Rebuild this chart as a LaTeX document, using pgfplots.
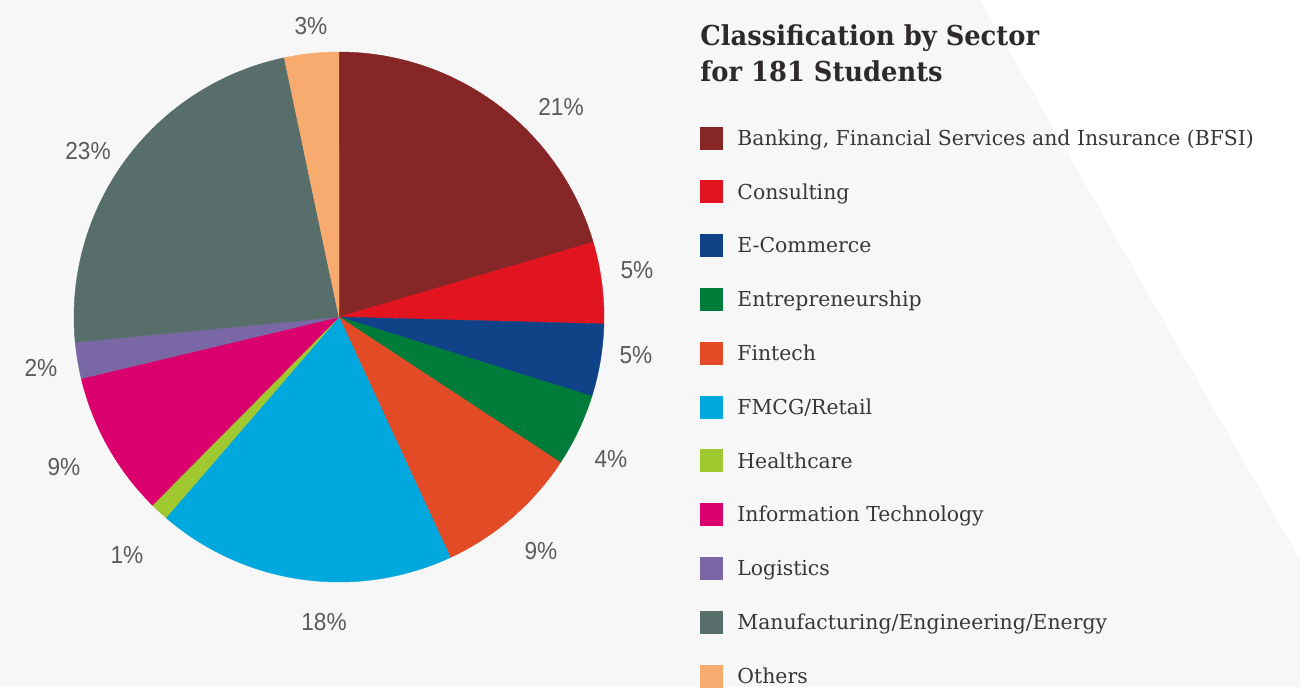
\documentclass[border=0pt]{standalone}
\usepackage{fontspec}
\setmainfont{DejaVu Serif}
\newfontfamily\legfont[FakeStretch=0.99]{DejaVu Serif}
\newfontfamily\titfont[FakeStretch=0.94]{DejaVu Serif}
\newfontfamily\pctfont[FakeStretch=0.92]{Liberation Sans}
\usepackage{pgfplots}
\pgfplotsset{compat=1.18}
\definecolor{bggrey}{HTML}{F7F7F7}
\definecolor{legtext}{HTML}{3B3637}
\definecolor{tittext}{HTML}{2E2A2B}
\definecolor{pcttext}{HTML}{5B5B5B}
\definecolor{cBFSI}{HTML}{862626}
\definecolor{cCons}{HTML}{E1141F}
\definecolor{cEcom}{HTML}{0F4286}
\definecolor{cEntr}{HTML}{007C3A}
\definecolor{cFint}{HTML}{E24B26}
\definecolor{cFMCG}{HTML}{00A8DD}
\definecolor{cHeal}{HTML}{A0C930}
\definecolor{cIT}{HTML}{DA006D}
\definecolor{cLogi}{HTML}{7967A6}
\definecolor{cManu}{HTML}{576E6B}
\definecolor{cOthe}{HTML}{F8AB6F}
% slice: #1 = students before this sector, #2 = students in sector (of 181), #3 = colour
\newcommand\slice[3]{%
  \addplot[fill=#3, draw=#3, line width=0.2pt, domain={#1*360/181}:{(#1+#2)*360/181},
    samples=90, variable=\t]
    ({339+265*sin(\t)},{317-265*cos(\t)}) -- (axis cs:339,317) -- cycle;}
\newcommand\pct[3]{\node[anchor=center, inner sep=0pt, text=pcttext,
  font=\pctfont\fontsize{12.3pt}{14pt}\selectfont] at (axis cs:#1,#2) {#3\%};}
\begin{document}
\begin{tikzpicture}
\begin{axis}[
  width=650pt, height=343.5pt, scale only axis,
  xmin=0, xmax=1300, ymin=0, ymax=687, y dir=reverse,
  hide axis, clip=false,
  legend image code/.code={\fill[#1] (0pt,-5.5pt) rectangle (11pt,5.5pt);},
  legend cell align=left,
  legend style={at={(axis cs:700,126.5)}, anchor=north west, draw=none, fill=none,
    inner sep=0pt, outer sep=0pt, row sep=15.7pt, column sep=7.5pt,
    font=\legfont\fontsize{10.3pt}{12pt}\selectfont, text=legtext,
    nodes={inner sep=0pt, text height=7.5pt, text depth=0pt}},
]
\addplot[fill=white, draw=none, forget plot] coordinates {(0,0) (1300,0) (1300,687) (0,687)} -- cycle;
\addplot[fill=bggrey, draw=none, forget plot] coordinates {(0,0) (980,0) (1300,560) (1300,687) (0,687)} -- cycle;

\slice{0}{37}{cBFSI}   \addlegendentry{Banking, Financial Services and Insurance (BFSI)}
\slice{37}{9}{cCons}   \addlegendentry{Consulting}
\slice{46}{8}{cEcom}   \addlegendentry{E-Commerce}
\slice{54}{8}{cEntr}   \addlegendentry{Entrepreneurship}
\slice{62}{16}{cFint}  \addlegendentry{Fintech}
\slice{78}{33}{cFMCG}  \addlegendentry{FMCG/Retail}
\slice{111}{2}{cHeal}  \addlegendentry{Healthcare}
\slice{113}{16}{cIT}   \addlegendentry{Information Technology}
\slice{129}{4}{cLogi}  \addlegendentry{Logistics}
\slice{133}{42}{cManu} \addlegendentry{Manufacturing/Engineering/Energy}
\slice{175}{6}{cOthe}  \addlegendentry{Others}

\pct{561}{107}{21}
\pct{637}{270}{5}
\pct{636}{355}{5}
\pct{611}{459}{4}
\pct{541}{551}{9}
\pct{324}{622}{18}
\pct{127}{555}{1}
\pct{64}{467}{9}
\pct{41}{368}{2}
\pct{88}{151}{23}
\pct{311}{26}{3}

\node[anchor=base west, inner sep=0pt, text=tittext,
  font=\titfont\bfseries\fontsize{13.7pt}{16pt}\selectfont] at (axis cs:700,45) {Classification by Sector};
\node[anchor=base west, inner sep=0pt, text=tittext,
  font=\titfont\bfseries\fontsize{13.7pt}{16pt}\selectfont] at (axis cs:700,81.7) {for 181 Students};
\end{axis}
\pgfresetboundingbox
\useasboundingbox (current axis.south west) rectangle (current axis.north east);
\end{tikzpicture}
\end{document}
